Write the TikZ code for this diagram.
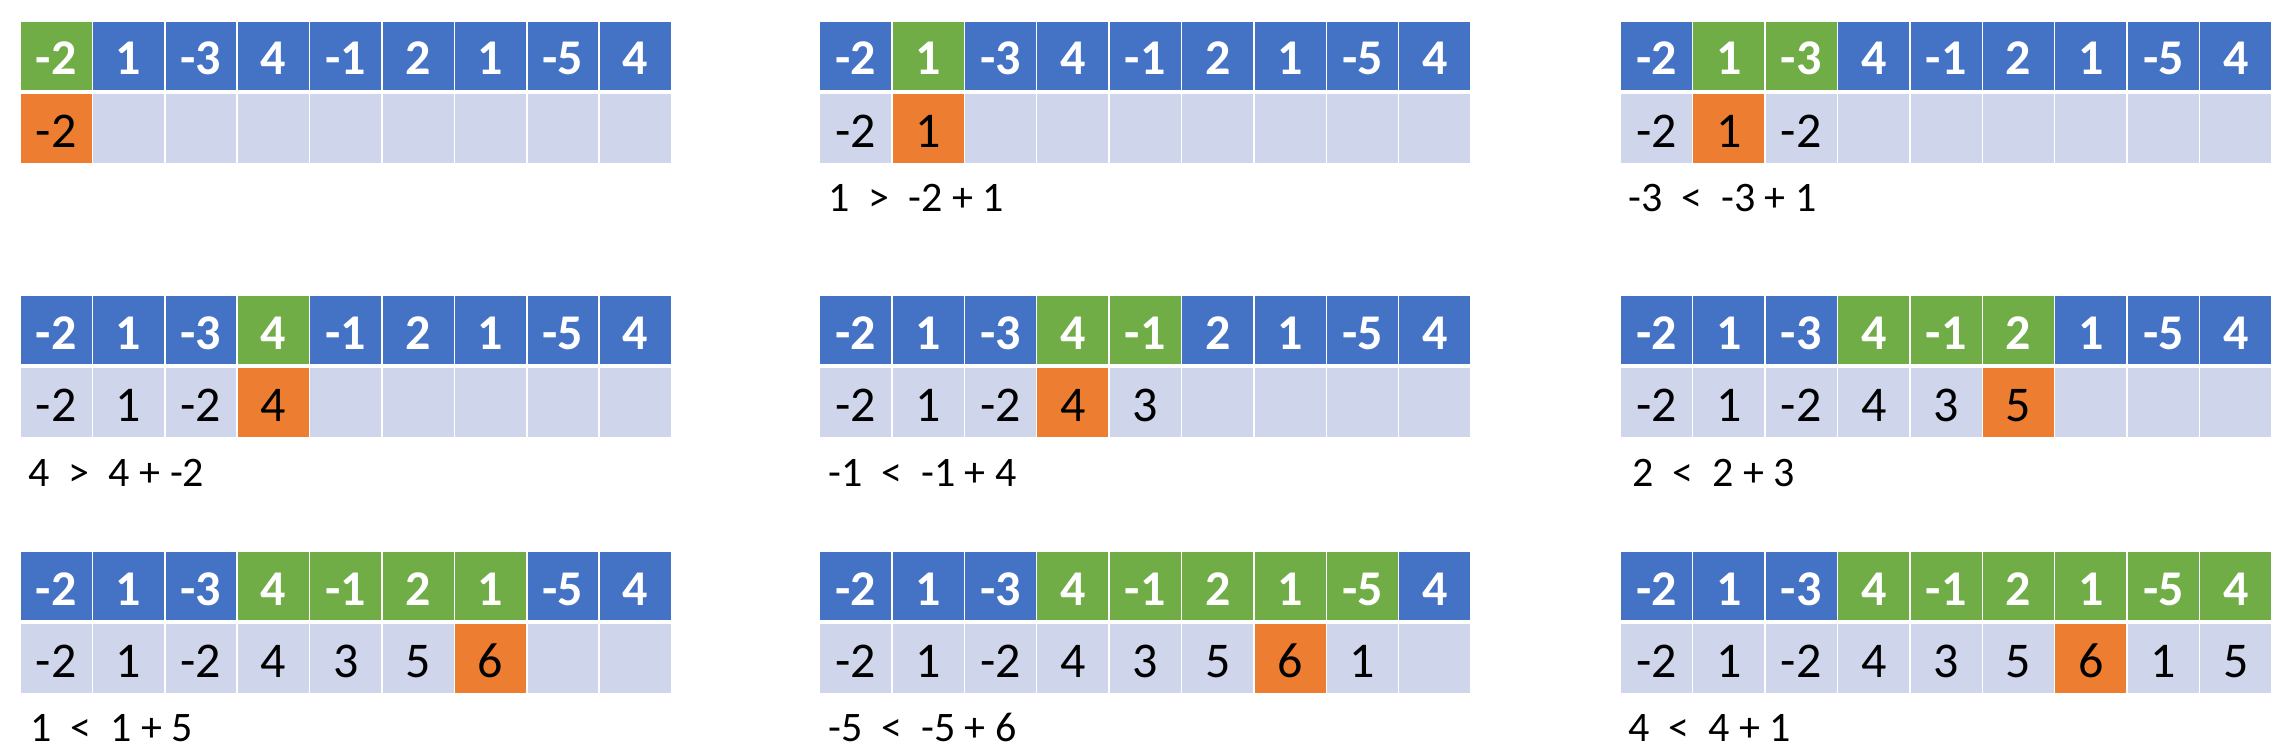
\documentclass[tikz,border=0pt]{standalone}
\usepackage{fontspec}
\setmainfont{Carlito}

\definecolor{arrblue}{HTML}{4472C4}
\definecolor{rungreen}{HTML}{70AD47}
\definecolor{bestorange}{HTML}{ED7D31}
\definecolor{sumgray}{HTML}{CFD5EA}

\tikzset{
  cell/.style={rectangle, minimum width=72.4pt, minimum height=70pt, inner sep=0pt,
    draw=white, line width=1.5pt, text height=38pt, text depth=0pt},
  arr/.style={cell, text=white, font=\fontsize{50}{60}\selectfont\bfseries},
  sum/.style={cell, text=black, font=\fontsize{50}{60}\selectfont},
  note/.style={anchor=base west, inner sep=0pt, font=\fontsize{42}{50}\selectfont}
}

\begin{document}
\begin{tikzpicture}[x=1pt,y=-1pt]
\useasboundingbox (0,0) rectangle (2294,754);

%Panel 1 [row 1, left]
\foreach \v/\c [count=\i] in {-2/rungreen,1/arrblue,-3/arrblue,4/arrblue,-1/arrblue,2/arrblue,1/arrblue,-5/arrblue,4/arrblue}
  \node [arr, fill=\c] (pa\i) at (20+72.4*\i-36.2, 56) {\v};
\foreach \v/\c [count=\i] in {-2/bestorange,{}/sumgray,{}/sumgray,{}/sumgray,{}/sumgray,{}/sumgray,{}/sumgray,{}/sumgray,{}/sumgray}
  \node [sum, fill=\c] (pas\i) at (20+72.4*\i-36.2, 128.4) {\v};

%Panel 2 [row 1, middle]
\foreach \v/\c [count=\i] in {-2/arrblue,1/rungreen,-3/arrblue,4/arrblue,-1/arrblue,2/arrblue,1/arrblue,-5/arrblue,4/arrblue}
  \node [arr, fill=\c] (pb\i) at (819.5+72.4*\i-36.2, 56) {\v};
\foreach \v/\c [count=\i] in {-2/sumgray,1/bestorange,{}/sumgray,{}/sumgray,{}/sumgray,{}/sumgray,{}/sumgray,{}/sumgray,{}/sumgray}
  \node [sum, fill=\c] (pbs\i) at (819.5+72.4*\i-36.2, 128.4) {\v};
% Text Node
\node [note] (pbnote) at (828,212) {1\ \ >\ \ -2 + 1};

%Panel 3 [row 1, right]
\foreach \v/\c [count=\i] in {-2/arrblue,1/rungreen,-3/rungreen,4/arrblue,-1/arrblue,2/arrblue,1/arrblue,-5/arrblue,4/arrblue}
  \node [arr, fill=\c] (pc\i) at (1620.3+72.4*\i-36.2, 56) {\v};
\foreach \v/\c [count=\i] in {-2/sumgray,1/bestorange,-2/sumgray,{}/sumgray,{}/sumgray,{}/sumgray,{}/sumgray,{}/sumgray,{}/sumgray}
  \node [sum, fill=\c] (pcs\i) at (1620.3+72.4*\i-36.2, 128.4) {\v};
% Text Node
\node [note] (pcnote) at (1628,212) {-3\ \ <\ \ -3 + 1};

%Panel 4 [row 2, left]
\foreach \v/\c [count=\i] in {-2/arrblue,1/arrblue,-3/arrblue,4/rungreen,-1/arrblue,2/arrblue,1/arrblue,-5/arrblue,4/arrblue}
  \node [arr, fill=\c] (pd\i) at (20+72.4*\i-36.2, 330) {\v};
\foreach \v/\c [count=\i] in {-2/sumgray,1/sumgray,-2/sumgray,4/bestorange,{}/sumgray,{}/sumgray,{}/sumgray,{}/sumgray,{}/sumgray}
  \node [sum, fill=\c] (pds\i) at (20+72.4*\i-36.2, 402.4) {\v};
% Text Node
\node [note] (pdnote) at (28.5,486) {4\ \ >\ \ 4 + -2};

%Panel 5 [row 2, middle]
\foreach \v/\c [count=\i] in {-2/arrblue,1/arrblue,-3/arrblue,4/rungreen,-1/rungreen,2/arrblue,1/arrblue,-5/arrblue,4/arrblue}
  \node [arr, fill=\c] (pe\i) at (819.5+72.4*\i-36.2, 330) {\v};
\foreach \v/\c [count=\i] in {-2/sumgray,1/sumgray,-2/sumgray,4/bestorange,3/sumgray,{}/sumgray,{}/sumgray,{}/sumgray,{}/sumgray}
  \node [sum, fill=\c] (pes\i) at (819.5+72.4*\i-36.2, 402.4) {\v};
% Text Node
\node [note] (penote) at (828,486) {-1\ \ <\ \ -1 + 4};

%Panel 6 [row 2, right]
\foreach \v/\c [count=\i] in {-2/arrblue,1/arrblue,-3/arrblue,4/rungreen,-1/rungreen,2/rungreen,1/arrblue,-5/arrblue,4/arrblue}
  \node [arr, fill=\c] (pf\i) at (1620.3+72.4*\i-36.2, 330) {\v};
\foreach \v/\c [count=\i] in {-2/sumgray,1/sumgray,-2/sumgray,4/sumgray,3/sumgray,5/bestorange,{}/sumgray,{}/sumgray,{}/sumgray}
  \node [sum, fill=\c] (pfs\i) at (1620.3+72.4*\i-36.2, 402.4) {\v};
% Text Node
\node [note] (pfnote) at (1632,486) {2\ \ <\ \ 2 + 3};

%Panel 7 [row 3, left]
\foreach \v/\c [count=\i] in {-2/arrblue,1/arrblue,-3/arrblue,4/rungreen,-1/rungreen,2/rungreen,1/rungreen,-5/arrblue,4/arrblue}
  \node [arr, fill=\c] (pg\i) at (20+72.4*\i-36.2, 586) {\v};
\foreach \v/\c [count=\i] in {-2/sumgray,1/sumgray,-2/sumgray,4/sumgray,3/sumgray,5/sumgray,6/bestorange,{}/sumgray,{}/sumgray}
  \node [sum, fill=\c] (pgs\i) at (20+72.4*\i-36.2, 658.4) {\v};
% Text Node
\node [note] (pgnote) at (30,741) {1\ \ <\ \ 1 + 5};

%Panel 8 [row 3, middle]
\foreach \v/\c [count=\i] in {-2/arrblue,1/arrblue,-3/arrblue,4/rungreen,-1/rungreen,2/rungreen,1/rungreen,-5/rungreen,4/arrblue}
  \node [arr, fill=\c] (ph\i) at (819.5+72.4*\i-36.2, 586) {\v};
\foreach \v/\c [count=\i] in {-2/sumgray,1/sumgray,-2/sumgray,4/sumgray,3/sumgray,5/sumgray,6/bestorange,1/sumgray,{}/sumgray}
  \node [sum, fill=\c] (phs\i) at (819.5+72.4*\i-36.2, 658.4) {\v};
% Text Node
\node [note] (phnote) at (828,741) {-5\ \ <\ \ -5 + 6};

%Panel 9 [row 3, right]
\foreach \v/\c [count=\i] in {-2/arrblue,1/arrblue,-3/arrblue,4/rungreen,-1/rungreen,2/rungreen,1/rungreen,-5/rungreen,4/rungreen}
  \node [arr, fill=\c] (pi\i) at (1620.3+72.4*\i-36.2, 586) {\v};
\foreach \v/\c [count=\i] in {-2/sumgray,1/sumgray,-2/sumgray,4/sumgray,3/sumgray,5/sumgray,6/bestorange,1/sumgray,5/sumgray}
  \node [sum, fill=\c] (pis\i) at (1620.3+72.4*\i-36.2, 658.4) {\v};
% Text Node
\node [note] (pinote) at (1628,741) {4\ \ <\ \ 4 + 1};

\end{tikzpicture}
\end{document}
